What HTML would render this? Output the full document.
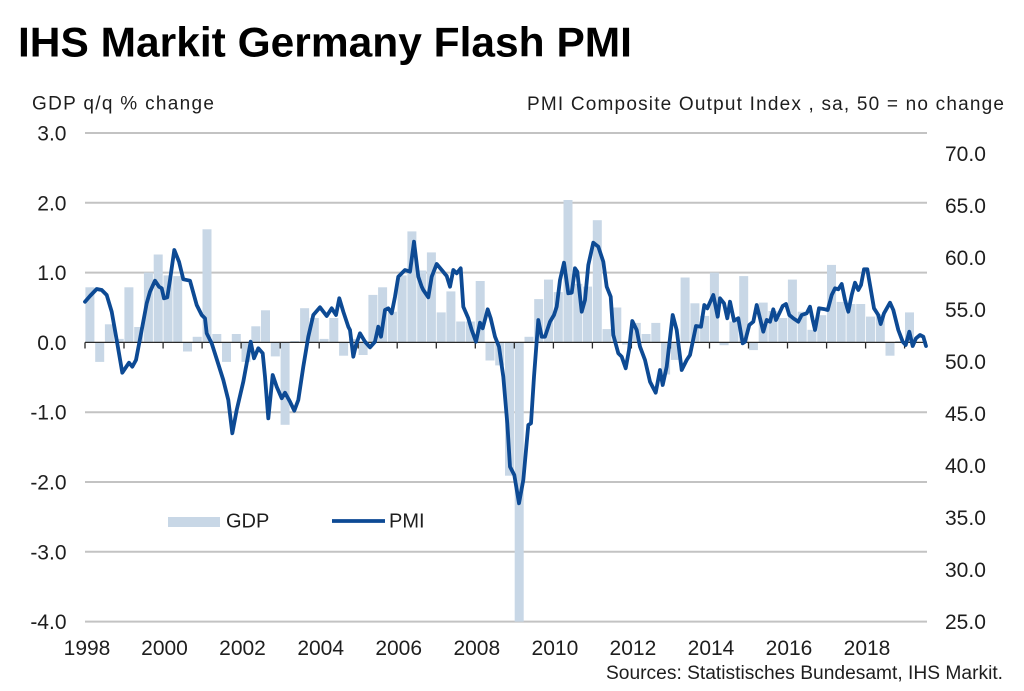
<!DOCTYPE html>
<html>
<head>
<meta charset="utf-8">
<style>
html,body{margin:0;padding:0;background:#fff;}
svg{display:block;}
text{font-family:"Liberation Sans",Arial,sans-serif;fill:#1e1e1e;}
</style>
</head>
<body>
<svg width="1024" height="691" viewBox="0 0 1024 691" xmlns="http://www.w3.org/2000/svg">
<rect width="1024" height="691" fill="#fff"/>
<text x="18" y="56.7" font-size="42" font-weight="bold" style="fill:#000" textLength="614" lengthAdjust="spacingAndGlyphs">IHS Markit Germany Flash PMI</text>
<text x="32" y="109.5" font-size="19" textLength="182" lengthAdjust="spacing">GDP q/q % change</text>
<text x="527" y="110" font-size="19" textLength="477" lengthAdjust="spacing">PMI Composite  Output  Index  , sa, 50 = no change</text>
<g stroke="#c3c3c3" stroke-width="2">
<line x1="85" y1="133" x2="927" y2="133"/>
<line x1="85" y1="202.8" x2="927" y2="202.8"/>
<line x1="85" y1="272.6" x2="927" y2="272.6"/>
<line x1="85" y1="412.2" x2="927" y2="412.2"/>
<line x1="85" y1="482" x2="927" y2="482"/>
<line x1="85" y1="551.8" x2="927" y2="551.8"/>
<line x1="85" y1="621.6" x2="927" y2="621.6"/>
</g>
<g fill="#c8d7e6">
<rect x="85.4" y="287.3" width="9" height="55.1"/>
<rect x="95.2" y="342.4" width="9" height="19.5"/>
<rect x="104.9" y="324.3" width="9" height="18.1"/>
<rect x="114.7" y="338.9" width="9" height="3.5"/>
<rect x="124.4" y="287.3" width="9" height="55.1"/>
<rect x="134.2" y="327.0" width="9" height="15.4"/>
<rect x="143.9" y="272.6" width="9" height="69.8"/>
<rect x="153.7" y="254.5" width="9" height="87.9"/>
<rect x="163.5" y="275.4" width="9" height="67.0"/>
<rect x="173.2" y="276.1" width="9" height="66.3"/>
<rect x="183.0" y="342.4" width="9" height="9.1"/>
<rect x="192.7" y="336.8" width="9" height="5.6"/>
<rect x="202.5" y="229.3" width="9" height="113.1"/>
<rect x="212.3" y="334.0" width="9" height="8.4"/>
<rect x="222.0" y="342.4" width="9" height="19.5"/>
<rect x="231.8" y="334.0" width="9" height="8.4"/>
<rect x="241.5" y="342.4" width="9" height="19.5"/>
<rect x="251.3" y="326.3" width="9" height="16.1"/>
<rect x="261.0" y="310.3" width="9" height="32.1"/>
<rect x="270.8" y="342.4" width="9" height="14.0"/>
<rect x="280.6" y="342.4" width="9" height="82.4"/>
<rect x="290.3" y="341.0" width="9" height="1.4"/>
<rect x="300.1" y="308.2" width="9" height="34.2"/>
<rect x="309.8" y="318.0" width="9" height="24.4"/>
<rect x="319.6" y="338.9" width="9" height="3.5"/>
<rect x="329.3" y="318.0" width="9" height="24.4"/>
<rect x="339.1" y="342.4" width="9" height="13.3"/>
<rect x="348.9" y="338.9" width="9" height="3.5"/>
<rect x="358.6" y="342.4" width="9" height="12.6"/>
<rect x="368.4" y="294.9" width="9" height="47.5"/>
<rect x="378.1" y="287.3" width="9" height="55.1"/>
<rect x="387.9" y="311.7" width="9" height="30.7"/>
<rect x="397.6" y="275.4" width="9" height="67.0"/>
<rect x="407.4" y="231.4" width="9" height="111.0"/>
<rect x="417.2" y="270.5" width="9" height="71.9"/>
<rect x="426.9" y="252.4" width="9" height="90.0"/>
<rect x="436.7" y="312.4" width="9" height="30.0"/>
<rect x="446.4" y="291.4" width="9" height="51.0"/>
<rect x="456.2" y="321.5" width="9" height="20.9"/>
<rect x="465.9" y="321.5" width="9" height="20.9"/>
<rect x="475.7" y="281.0" width="9" height="61.4"/>
<rect x="485.5" y="342.4" width="9" height="18.1"/>
<rect x="495.2" y="342.4" width="9" height="23.0"/>
<rect x="505.0" y="342.4" width="9" height="133.3"/>
<rect x="514.7" y="342.4" width="9" height="279.2"/>
<rect x="524.5" y="336.8" width="9" height="5.6"/>
<rect x="534.2" y="299.1" width="9" height="43.3"/>
<rect x="544.0" y="279.6" width="9" height="62.8"/>
<rect x="553.8" y="292.1" width="9" height="50.3"/>
<rect x="563.5" y="200.0" width="9" height="142.4"/>
<rect x="573.3" y="283.8" width="9" height="58.6"/>
<rect x="583.0" y="286.6" width="9" height="55.8"/>
<rect x="592.8" y="220.2" width="9" height="122.2"/>
<rect x="602.5" y="329.1" width="9" height="13.3"/>
<rect x="612.3" y="307.5" width="9" height="34.9"/>
<rect x="622.1" y="342.4" width="9" height="2.1"/>
<rect x="631.8" y="322.9" width="9" height="19.5"/>
<rect x="641.6" y="334.0" width="9" height="8.4"/>
<rect x="651.3" y="322.9" width="9" height="19.5"/>
<rect x="661.1" y="342.4" width="9" height="32.1"/>
<rect x="670.9" y="342.4" width="9" height="17.5"/>
<rect x="680.6" y="277.5" width="9" height="64.9"/>
<rect x="690.4" y="303.3" width="9" height="39.1"/>
<rect x="700.1" y="315.9" width="9" height="26.5"/>
<rect x="709.9" y="272.6" width="9" height="69.8"/>
<rect x="719.6" y="342.4" width="9" height="2.8"/>
<rect x="729.4" y="321.5" width="9" height="20.9"/>
<rect x="739.2" y="276.1" width="9" height="66.3"/>
<rect x="748.9" y="342.4" width="9" height="7.7"/>
<rect x="758.7" y="302.6" width="9" height="39.8"/>
<rect x="768.4" y="311.0" width="9" height="31.4"/>
<rect x="778.2" y="318.0" width="9" height="24.4"/>
<rect x="787.9" y="279.6" width="9" height="62.8"/>
<rect x="797.7" y="311.7" width="9" height="30.7"/>
<rect x="807.5" y="329.8" width="9" height="12.6"/>
<rect x="817.2" y="315.2" width="9" height="27.2"/>
<rect x="827.0" y="264.9" width="9" height="77.5"/>
<rect x="836.7" y="301.9" width="9" height="40.5"/>
<rect x="846.5" y="304.0" width="9" height="38.4"/>
<rect x="856.2" y="304.0" width="9" height="38.4"/>
<rect x="866.0" y="316.6" width="9" height="25.8"/>
<rect x="875.8" y="314.5" width="9" height="27.9"/>
<rect x="885.5" y="342.4" width="9" height="13.3"/>
<rect x="895.3" y="341.0" width="9" height="1.4"/>
<rect x="905.0" y="312.4" width="9" height="30.0"/>
</g>
<g stroke="#2a2a2a" stroke-width="1.3">
<line x1="85" y1="342.4" x2="927" y2="342.4"/>
<line x1="85" y1="342.4" x2="85" y2="348.5"/>
<line x1="124" y1="342.4" x2="124" y2="348.5"/>
<line x1="163.1" y1="342.4" x2="163.1" y2="348.5"/>
<line x1="202.1" y1="342.4" x2="202.1" y2="348.5"/>
<line x1="241.1" y1="342.4" x2="241.1" y2="348.5"/>
<line x1="280.2" y1="342.4" x2="280.2" y2="348.5"/>
<line x1="319.2" y1="342.4" x2="319.2" y2="348.5"/>
<line x1="358.2" y1="342.4" x2="358.2" y2="348.5"/>
<line x1="397.2" y1="342.4" x2="397.2" y2="348.5"/>
<line x1="436.3" y1="342.4" x2="436.3" y2="348.5"/>
<line x1="475.3" y1="342.4" x2="475.3" y2="348.5"/>
<line x1="514.3" y1="342.4" x2="514.3" y2="348.5"/>
<line x1="553.4" y1="342.4" x2="553.4" y2="348.5"/>
<line x1="592.4" y1="342.4" x2="592.4" y2="348.5"/>
<line x1="631.4" y1="342.4" x2="631.4" y2="348.5"/>
<line x1="670.5" y1="342.4" x2="670.5" y2="348.5"/>
<line x1="709.5" y1="342.4" x2="709.5" y2="348.5"/>
<line x1="748.5" y1="342.4" x2="748.5" y2="348.5"/>
<line x1="787.5" y1="342.4" x2="787.5" y2="348.5"/>
<line x1="826.6" y1="342.4" x2="826.6" y2="348.5"/>
<line x1="865.6" y1="342.4" x2="865.6" y2="348.5"/>
<line x1="904.6" y1="342.4" x2="904.6" y2="348.5"/>
</g>
<polyline fill="none" stroke="#0d4a94" stroke-width="3.8" stroke-linejoin="round" stroke-linecap="round" points="85,301.7 90,296 96.7,289 101.7,290 106.7,295 111.7,311.7 116.7,340 122.3,372.7 129,362.7 132.3,366.7 136,360 141.7,330 146.7,303.3 150,291.7 155,280.7 159,286.7 161.7,288.3 164,298.3 167.3,297.3 170,280 174.3,250 179,261.7 183.3,279.3 190,280.7 196.7,305 201.7,315 205,318.3 206.7,333.3 211.7,343.3 217,360 223.3,380 228.3,400 232.3,433.3 236.7,410 243.3,381.7 250.7,341.7 254,358.3 258.3,348.3 262.7,353.3 265,376.7 268.3,418.3 272.7,375 276.7,386.7 281.7,398.3 285,392.7 290,401.7 294.3,410.7 298.3,400 303.3,366.7 308.3,336.7 313.3,315 320,307.3 326.7,316 331.7,308.3 336,315 339.3,298.3 343.3,311.7 348.3,326.7 350,330 353.3,356.7 356,345 360,333.3 365,341.7 370,347.3 375,341.7 378.3,326.7 381,336.7 385,310 388.3,308.3 391.7,313.3 395,296.7 398.3,276.7 405,270 410,271.7 414,241.7 418.3,276.7 421.7,286.7 423.3,290 428.3,297.3 431.7,276.7 436.7,264 441.7,270 446.7,276 450,286.7 453.3,270 456.7,273.3 460.7,268.3 463.3,306.7 468.3,318.3 471.7,330 476,341.7 480,322.7 482.7,328.3 487.7,309.3 490.7,318.3 495,336.7 499,346.7 503.3,376.7 507.3,423.3 510,466.7 514.3,475 519,503.3 523.3,480 528.3,425 531,423.3 534,376.7 538.3,320 541.7,336.7 545,336.7 550,321.7 554,315 556.7,306.7 560,280 564,262.7 568.3,293.3 571.7,292.7 575,268.3 577.3,271.7 581.7,311.7 585,300 588.3,265 593.3,242.7 598.3,246.7 603.3,261.7 606.7,286.7 610.7,296.7 613.3,335 618.3,353.3 621.7,356.7 625.7,368.3 629,350 632.3,321 636.7,330 640,346.7 645,360 650,381.7 655.7,392.7 660,370 662.7,385 666.7,366.7 672.7,315 676.7,330 681.7,370 686.7,360 690,355 696,326 701,326.7 704.3,305 707.3,308.3 713.3,295 717.7,316.7 720,298.3 724,303.3 727.3,318.3 730,301.7 734,320.7 738.3,318.3 742.7,343.3 745,341.7 749.3,325 753.3,321.7 756.7,305 760,318.3 763.3,331.7 766.7,320 770,321.7 773.3,309.3 776,320 779.3,313.3 782.7,306 786,304 789.3,315 793.3,318.3 798.3,321.7 801.7,315 806.7,313.3 810,306.7 812.7,320 815,330 819,308.3 825,309.3 827.7,310 831.7,295 835,288.3 838.3,289.3 841.7,284 845,300 848.3,311.7 851.7,295 855,282.7 858.3,290 861,285 864,269.3 867.3,269.3 870,285 874,308.3 878.3,315 880.7,324 884,313.3 890,302.7 893.3,310 898.3,330 902.7,341.7 905.7,345 909.3,331.7 912.7,346 916,338.3 920,335 923.3,336.7 926,346"/>
<g font-size="21" text-anchor="end">
<text x="66.5" y="140.5">3.0</text>
<text x="66.5" y="210.3">2.0</text>
<text x="66.5" y="280.1">1.0</text>
<text x="66.5" y="349.9">0.0</text>
<text x="66.5" y="419.7">-1.0</text>
<text x="66.5" y="489.5">-2.0</text>
<text x="66.5" y="559.3">-3.0</text>
<text x="66.5" y="629.1">-4.0</text>
</g>
<g font-size="21">
<text x="945" y="161">70.0</text>
<text x="945" y="213">65.0</text>
<text x="945" y="265">60.0</text>
<text x="945" y="317">55.0</text>
<text x="945" y="369">50.0</text>
<text x="945" y="421">45.0</text>
<text x="945" y="473">40.0</text>
<text x="945" y="525">35.0</text>
<text x="945" y="577">30.0</text>
<text x="945" y="629">25.0</text>
</g>
<g font-size="21" text-anchor="middle">
<text x="87" y="655">1998</text>
<text x="164.5" y="655">2000</text>
<text x="242.5" y="655">2002</text>
<text x="320.7" y="655">2004</text>
<text x="398.7" y="655">2006</text>
<text x="476.8" y="655">2008</text>
<text x="554.9" y="655">2010</text>
<text x="632.9" y="655">2012</text>
<text x="711" y="655">2014</text>
<text x="789" y="655">2016</text>
<text x="867" y="655">2018</text>
</g>
<rect x="168" y="517" width="52" height="10" fill="#c8d7e6"/>
<text x="226" y="527.7" font-size="20">GDP</text>
<line x1="332" y1="521" x2="385" y2="521" stroke="#0d4a94" stroke-width="3.8"/>
<text x="389" y="527.7" font-size="20">PMI</text>
<text x="1003" y="679" font-size="19" text-anchor="end" textLength="397" lengthAdjust="spacingAndGlyphs">Sources: Statistisches Bundesamt, IHS Markit.</text>
</svg>
</body>
</html>
